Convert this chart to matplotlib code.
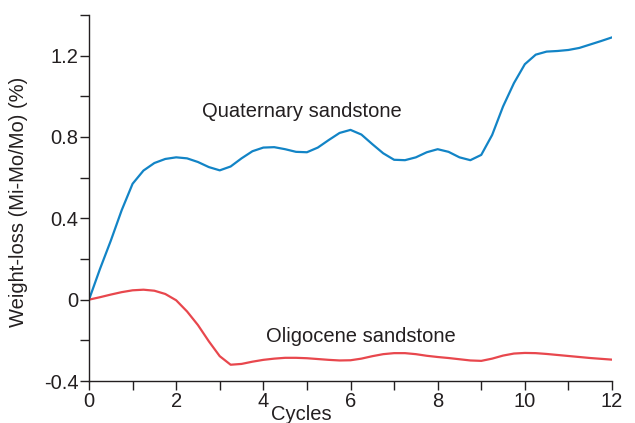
import matplotlib
matplotlib.use("Agg")
import matplotlib.pyplot as plt
from matplotlib.ticker import FixedLocator

plt.rcParams['font.family'] = ['Liberation Sans', 'DejaVu Sans']

# Data (cycles, weight-loss %)
cycles = [0, 0.25, 0.5, 0.75, 1.0, 1.25, 1.5, 1.75, 2.0, 2.25, 2.5, 2.75,
          3.0, 3.25, 3.5, 3.75, 4.0, 4.25, 4.5, 4.75, 5.0, 5.25, 5.5, 5.75,
          6.0, 6.25, 6.5, 6.75, 7.0, 7.25, 7.5, 7.75, 8.0, 8.25, 8.5, 8.75,
          9.0, 9.25, 9.5, 9.75, 10.0, 10.25, 10.5, 10.75, 11.0, 11.25, 11.5,
          11.75, 12.0]

quaternary = [0.0, 0.15, 0.29, 0.44, 0.57, 0.635, 0.672, 0.692, 0.70, 0.695,
              0.677, 0.652, 0.636, 0.655, 0.695, 0.73, 0.748, 0.75, 0.74,
              0.727, 0.725, 0.748, 0.785, 0.82, 0.835, 0.812, 0.765, 0.72,
              0.688, 0.686, 0.70, 0.725, 0.74, 0.727, 0.70, 0.686, 0.712,
              0.81, 0.95, 1.065, 1.158, 1.205, 1.22, 1.223, 1.228, 1.238,
              1.255, 1.272, 1.29]

oligocene = [0.0, 0.012, 0.025, 0.037, 0.046, 0.049, 0.044, 0.028, -0.003,
             -0.058, -0.125, -0.205, -0.278, -0.32, -0.316, -0.305, -0.296,
             -0.29, -0.286, -0.286, -0.288, -0.292, -0.296, -0.299, -0.298,
             -0.29, -0.278, -0.268, -0.263, -0.263, -0.268, -0.276, -0.282,
             -0.287, -0.293, -0.299, -0.301, -0.29, -0.275, -0.265, -0.262,
             -0.263, -0.267, -0.272, -0.277, -0.282, -0.287, -0.291, -0.295]

x_major = [0, 2, 4, 6, 8, 10, 12]
x_labels = ["0", "2", "4", "6", "8", "10", "12"]
x_minor = [1, 3, 5, 7, 9, 11]
y_major = [-0.4, 0, 0.4, 0.8, 1.2]
y_labels = ["-0.4", "0", "0.4", "0.8", "1.2"]
y_minor = [-0.2, 0.2, 0.6, 1.0, 1.4]

ink = "#231f20"
blue = "#1284c6"
red = "#e8474d"
fs = 14.5

fig = plt.figure(figsize=(6.35, 4.23), dpi=100)
ax = fig.add_axes([89 / 635, 1 - 381 / 423, 523 / 635, 366 / 423])

ax.plot(cycles, quaternary, color=blue, lw=1.6, solid_capstyle='round',
        solid_joinstyle='round')
ax.plot(cycles, oligocene, color=red, lw=1.6, solid_capstyle='round',
        solid_joinstyle='round')

ax.set_xlim(0, 12)
ax.set_ylim(-0.4, 1.4)

for s in ['top', 'right']:
    ax.spines[s].set_visible(False)
for s in ['left', 'bottom']:
    ax.spines[s].set_color(ink)
    ax.spines[s].set_linewidth(1.0)

ax.xaxis.set_major_locator(FixedLocator(x_major))
ax.set_xticklabels(x_labels)
ax.xaxis.set_minor_locator(FixedLocator(x_minor))
ax.yaxis.set_major_locator(FixedLocator(y_major))
ax.set_yticklabels(y_labels)
ax.yaxis.set_minor_locator(FixedLocator(y_minor))

ax.tick_params(which='both', direction='out', length=6.5, width=1.0,
               color=ink, labelcolor=ink, labelsize=fs)
ax.tick_params(axis='x', which='major', pad=1.5)
ax.tick_params(axis='y', which='major', pad=1.0)

ax.set_ylabel("Weight-loss (Mi-Mo/Mo) (%)", fontsize=fs, color=ink)
ax.yaxis.set_label_coords(-0.117, 0.489)
ax.set_xlabel("Cycles", fontsize=fs, color=ink, va='top')
ax.xaxis.set_label_coords(0.405, -0.065)

ax.text(2.59, 0.896, "Quaternary sandstone", fontsize=fs, color=ink,
        ha='left', va='baseline')
ax.text(4.06, -0.208, "Oligocene sandstone", fontsize=fs, color=ink,
        ha='left', va='baseline')

fig.savefig("out.png", dpi=100)
